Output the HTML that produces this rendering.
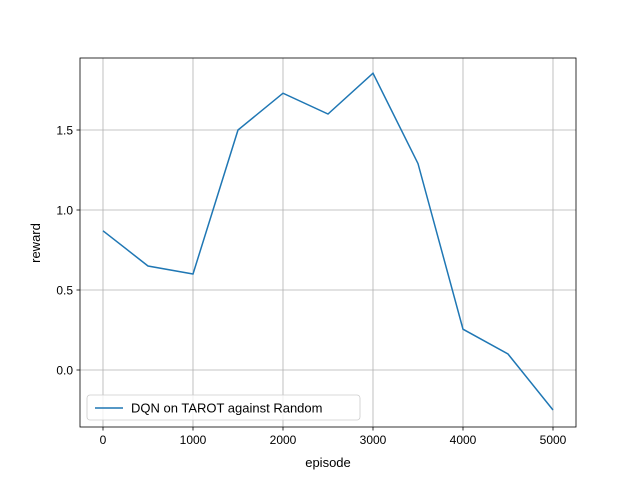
<!DOCTYPE html>
<html><head><meta charset="utf-8"><style>
body{margin:0;background:#fff;}
svg{display:block;font-family:"Liberation Sans","DejaVu Sans",sans-serif;}
</style></head><body>
<svg id="chart" width="640" height="480"></svg>
<script>
const episodes=[0,500,1000,1500,2000,2500,3000,3500,4000,4500,5000];
const rewards=[0.87,0.65,0.60,1.50,1.73,1.60,1.855,1.29,0.255,0.10,-0.25];
const xTicks=[0,1000,2000,3000,4000,5000];
const yTicks=[0.0,0.5,1.0,1.5];
const yTickLabels=["0.0","0.5","1.0","1.5"];
const NS="http://www.w3.org/2000/svg";
const svg=document.getElementById('chart');
const L=80,R=576,T=58,B=427;
const xs=v=>103+v*0.09;
const ys=v=>370-v*160;
function el(tag,attrs,parent){const e=document.createElementNS(NS,tag);for(const k in attrs)e.setAttribute(k,attrs[k]);(parent||svg).appendChild(e);return e;}
const grid=el('g',{});


const xa=el('g',{});


xTicks.forEach(t=>{const x=xs(t);
 el('line',{x1:x,x2:x,y1:T,y2:B,stroke:'#b0b0b0','stroke-width':0.8},grid);
 el('line',{x1:x,x2:x,y1:B,y2:B+3.5,stroke:'#000','stroke-width':0.8},xa);
 const tx=el('text',{x:x,y:B+17,'font-size':12,'text-anchor':'middle'},xa);tx.textContent=t;
 
 
});
const ya=el('g',{});


yTicks.forEach((t,i)=>{const y=ys(t);
 el('line',{x1:L,x2:R,y1:y,y2:y,stroke:'#b0b0b0','stroke-width':0.8},grid);
 el('line',{x1:L-3.5,x2:L,y1:y,y2:y,stroke:'#000','stroke-width':0.8},ya);
 const tx=el('text',{x:L-7,y:y+4.5,'font-size':12,'text-anchor':'end'},ya);tx.textContent=yTickLabels[i];
 
 
});
const line=el('polyline',{points:episodes.map((e,i)=>xs(e)+','+ys(rewards[i])).join(' '),fill:'none',stroke:'#1f77b4','stroke-width':1.5});


const frame=el('rect',{x:L,y:T,width:R-L,height:B-T,fill:'none',stroke:'#000','stroke-width':0.8});


const xt=el('text',{x:(L+R)/2,y:467,'font-size':13,'text-anchor':'middle'});xt.textContent='episode';


const yt=el('text',{x:0,y:0,'font-size':13,'text-anchor':'middle',transform:'translate(40,243) rotate(-90)'});yt.textContent='reward';


const lg=el('g',{});


el('rect',{x:87,y:395,width:273,height:25,rx:3,fill:'#fff','fill-opacity':0.8,stroke:'#ccc','stroke-width':0.8},lg);
el('line',{x1:95,x2:123,y1:408,y2:408,stroke:'#1f77b4','stroke-width':1.5},lg);
const lt=el('text',{x:131,y:412.5,'font-size':13},lg);lt.textContent='DQN on TAROT against Random';


</script>
</body></html>
